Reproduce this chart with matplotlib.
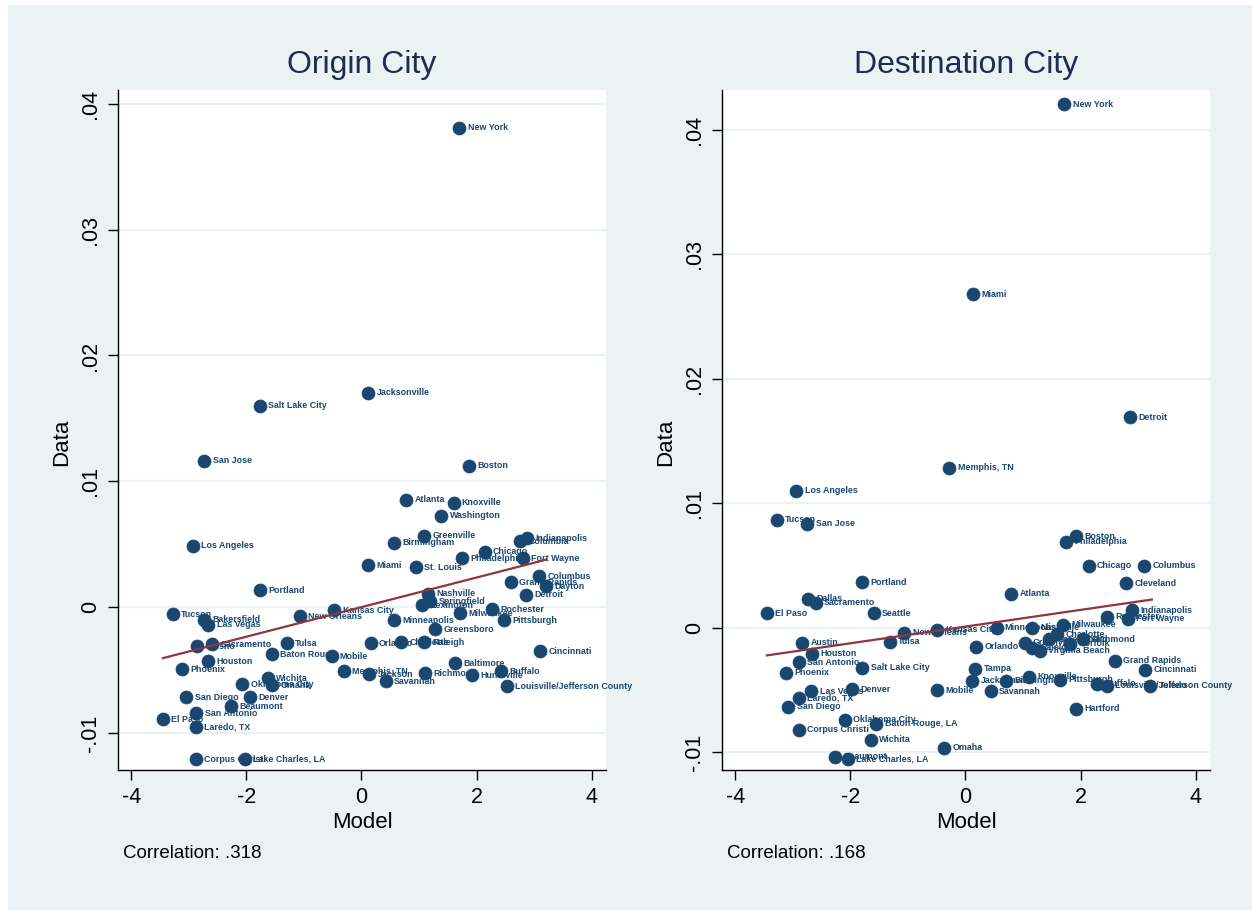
import matplotlib
matplotlib.use("Agg")
import matplotlib.pyplot as plt
from matplotlib.patches import Rectangle

plt.rcParams['font.family'] = ['Liberation Sans', 'DejaVu Sans']

# ---------------- data ----------------
orig_names = ["New York", "Jacksonville", "Salt Lake City", "San Jose", "Boston", "Atlanta",
              "Knoxville", "Washington", "Greenville", "Birmingham", "Los Angeles", "Columbia",
              "Indianapolis", "Chicago", "Philadelphia", "Fort Wayne", "Miami", "St. Louis",
              "Portland", "Columbus", "Dayton", "Grand Rapids", "Detroit", "Nashville",
              "Lexington", "Springfield", "Rochester", "Milwaukee", "Pittsburgh", "Kansas City",
              "New Orleans", "Minneapolis", "Greensboro", "Tucson", "Bakersfield", "Las Vegas",
              "Fresno", "Sacramento", "Tulsa", "Baton Rouge", "Mobile", "Houston", "Phoenix",
              "Orlando", "Charlotte", "Raleigh", "Baltimore", "Cincinnati", "Memphis, TN",
              "Jackson", "Savannah", "Richmond", "Huntsville", "Buffalo",
              "Louisville/Jefferson County", "Oklahoma City", "Wichita", "Omaha", "San Diego",
              "Denver", "Beaumont", "San Antonio", "El Paso", "Laredo, TX", "Corpus Christi",
              "Lake Charles, LA"]
orig_model = [1.70, 0.12, -1.77, -2.73, 1.875, 0.78,
              1.60, 1.39, 1.09, 0.56, -2.93, 2.76,
              2.88, 2.14, 1.74, 2.80, 0.12, 0.94,
              -1.77, 3.09, 3.21, 2.60, 2.86, 1.15,
              1.06, 1.20, 2.27, 1.72, 2.47, -0.47,
              -1.07, 0.56, 1.28, -3.28, -2.73, -2.66,
              -2.85, -2.59, -1.30, -1.56, -0.52, -2.67, -3.11,
              0.16, 0.69, 1.09, 1.63, 3.11, -0.31,
              0.14, 0.42, 1.11, 1.93, 2.43,
              2.53, -2.07, -1.63, -1.55, -3.04,
              -1.94, -2.27, -2.87, -3.45, -2.88, -2.88,
              -2.03]
orig_data = [0.0381, 0.01704, 0.0160, 0.01162, 0.01123, 0.00852,
             0.00828, 0.00725, 0.00565, 0.0051, 0.00486, 0.00525,
             0.00549, 0.00438, 0.0039, 0.0039, 0.00334, 0.00318,
             0.00135, 0.00247, 0.00167, 0.00199, 0.00096, 0.00104,
             0.00016, 0.00048, -0.00016, -0.00048, -0.00104, -0.00024,
             -0.00072, -0.00104, -0.00175, -0.00056, -0.0010, -0.0014,
             -0.0031, -0.00295, -0.00287, -0.00374, -0.0039, -0.0043, -0.00494,
             -0.00287, -0.00279, -0.00279, -0.00446, -0.0035, -0.0051,
             -0.00533, -0.00589, -0.00525, -0.0054, -0.0051,
             -0.00629, -0.00613, -0.00565, -0.00621, -0.00717,
             -0.00717, -0.00788, -0.00844, -0.00892, -0.00955, -0.0121,
             -0.0121]

dest_names = ["New York", "Miami", "Detroit", "Memphis, TN", "Los Angeles", "Tucson", "San Jose",
              "Boston", "Philadelphia", "Chicago", "Columbus", "Cleveland", "Atlanta", "Portland",
              "Dallas", "Sacramento", "El Paso", "Seattle", "Indianapolis", "Fort Wayne",
              "Rochester", "Austin", "Tulsa", "New Orleans", "Kansas City", "Houston",
              "San Antonio", "Salt Lake City", "Phoenix", "Las Vegas", "Denver", "Laredo, TX",
              "San Diego", "Mobile", "Oklahoma City", "Baton Rouge, LA", "Corpus Christi",
              "Wichita", "Omaha", "Beaumont", "Lake Charles, LA", "Orlando", "Tampa",
              "Jacksonville", "Savannah", "Grand Rapids", "Cincinnati", "Hartford",
              "Birmingham", "Knoxville", "Pittsburgh", "Buffalo",
              "Louisville/Jefferson County", "Toledo", "Minneapolis", "Nashville", "Milwaukee",
              "Greenville", "Raleigh", "Greensboro", "Charlotte", "Norfolk", "Richmond",
              "Virginia Beach"]
dest_model = [1.72, 0.14, 2.86, -0.28, -2.94, -3.28, -2.75,
              1.92, 1.74, 2.14, 3.10, 2.79, 0.80, -1.79,
              -2.74, -2.60, -3.45, -1.59, 2.89, 2.82,
              2.46, -2.84, -1.31, -1.06, -0.49, -2.67,
              -2.89, -1.79, -3.12, -2.68, -1.97, -2.89,
              -3.08, -0.49, -2.09, -1.55, -2.89,
              -1.64, -0.37, -2.26, -2.04, 0.19, 0.17,
              0.12, 0.44, 2.60, 3.12, 1.93,
              0.71, 1.11, 1.64, 2.28,
              2.46, 3.21, 0.54, 1.15, 1.69,
              1.03, 1.15, 1.46, 1.59, 1.81, 2.04,
              1.29]
dest_data = [0.04204, 0.02677, 0.01688, 0.01286, 0.01101, 0.00868, 0.00836,
             0.00732, 0.00691, 0.00498, 0.00498, 0.00354, 0.00273, 0.00362,
             0.00233, 0.00201, 0.00113, 0.00113, 0.00137, 0.00072,
             0.00088, -0.00121, -0.00113, -0.0004, -0.00016, -0.00209,
             -0.00281, -0.00322, -0.00362, -0.00514, -0.00498, -0.00563,
             -0.00635, -0.00506, -0.0074, -0.00772, -0.0082,
             -0.0090, -0.00965, -0.01037, -0.01053, -0.00153, -0.0033,
             -0.00426, -0.00514, -0.00265, -0.00338, -0.00651,
             -0.00426, -0.00394, -0.00418, -0.0045,
             -0.00466, -0.00466, 0.0, 0.0, 0.00024,
             -0.00121, -0.00161, -0.00096, -0.00056, -0.00129, -0.00096,
             -0.00185]

orig_fit_x = [-3.45, 3.21]
orig_fit_y = [-0.00406, 0.00377]
dest_fit_x = [-3.45, 3.24]
dest_fit_y = [-0.00224, 0.00225]

x_ticks = [-4, -2, 0, 2, 4]
x_ticklabels = ["-4", "-2", "0", "2", "4"]
y_ticks = [-0.01, 0, 0.01, 0.02, 0.03, 0.04]
y_ticklabels = ["-.01", "0", ".01", ".02", ".03", ".04"]

titles = ["Origin City", "Destination City"]
correlations = ["Correlation: .318", "Correlation: .168"]

# ---------------- style ----------------
W, H = 1252, 910
BG = "#EAF2F3"
NAVY = "#1A476F"
MAROON = "#90353B"
TITLE_C = "#1E2D53"

fig = plt.figure(figsize=(W / 100, H / 100), dpi=100, facecolor=BG)
fig.patches.append(Rectangle((0, 1 - 5 / H), 1, 5 / H, transform=fig.transFigure,
                             facecolor="white", edgecolor="none", zorder=0))
fig.patches.append(Rectangle((0, 0), 8 / W, 1, transform=fig.transFigure,
                             facecolor="white", edgecolor="none", zorder=0))


def fx(px):
    return px / W


def fy(py):
    return 1 - py / H


panels = [
    dict(names=orig_names, x=orig_model, y=orig_data, fx_=orig_fit_x, fy_=orig_fit_y,
         left=118, right=606, top=90, bottom=770, ylim=(-0.01295, 0.0411),
         title=titles[0], corr=correlations[0]),
    dict(names=dest_names, x=dest_model, y=dest_data, fx_=dest_fit_x, fy_=dest_fit_y,
         left=722, right=1210, top=90, bottom=770, ylim=(-0.01145, 0.0432),
         title=titles[1], corr=correlations[1]),
]

for p in panels:
    ax = fig.add_axes([fx(p["left"]), fy(p["bottom"]),
                       (p["right"] - p["left"]) / W, (p["bottom"] - p["top"]) / H])
    ax.set_facecolor("white")
    ax.set_xlim(-4.23, 4.25)
    ax.set_ylim(*p["ylim"])
    for yt in y_ticks:
        ax.axhline(yt, color=BG, lw=1.6, zorder=1)
    ax.plot(p["fx_"], p["fy_"], color=MAROON, lw=1.6, zorder=4)
    ax.scatter(p["x"], p["y"], s=88, color=NAVY, edgecolors=NAVY, linewidths=0.5, zorder=3)
    for n, xv, yv in zip(p["names"], p["x"], p["y"]):
        ax.annotate(n, (xv, yv), xytext=(6, 0), textcoords="offset points",
                    ha="left", va="center", fontsize=6.4, fontweight="bold",
                    color=NAVY, zorder=2, annotation_clip=False)
    for s in ["top", "right"]:
        ax.spines[s].set_visible(False)
    for s in ["left", "bottom"]:
        ax.spines[s].set_color("black")
        ax.spines[s].set_linewidth(1.0)
    ax.set_xticks(x_ticks)
    ax.set_xticklabels(x_ticklabels, fontsize=15.5)
    ax.set_yticks(y_ticks)
    ax.set_yticklabels(y_ticklabels, fontsize=15.5, rotation=90, va="center")
    ax.tick_params(axis="both", direction="out", length=7, width=1.0, color="black")
    ax.tick_params(axis="x", pad=5)
    ax.tick_params(axis="y", pad=5)
    cx = (p["left"] + p["right"]) / 2
    fig.text(fx(cx), fy(65), p["title"], ha="center", va="center", fontsize=23, color=TITLE_C)
    fig.text(fx(cx), fy(822), "Model", ha="center", va="center", fontsize=16)
    fig.text(fx(p["left"] - 56), fy(442), "Data", ha="center", va="center", fontsize=16,
             rotation=90)
    fig.text(fx(p["left"] + 5), fy(853), p["corr"], ha="left", va="center", fontsize=13.5)

fig.savefig("out.png", dpi=100, facecolor=BG)
